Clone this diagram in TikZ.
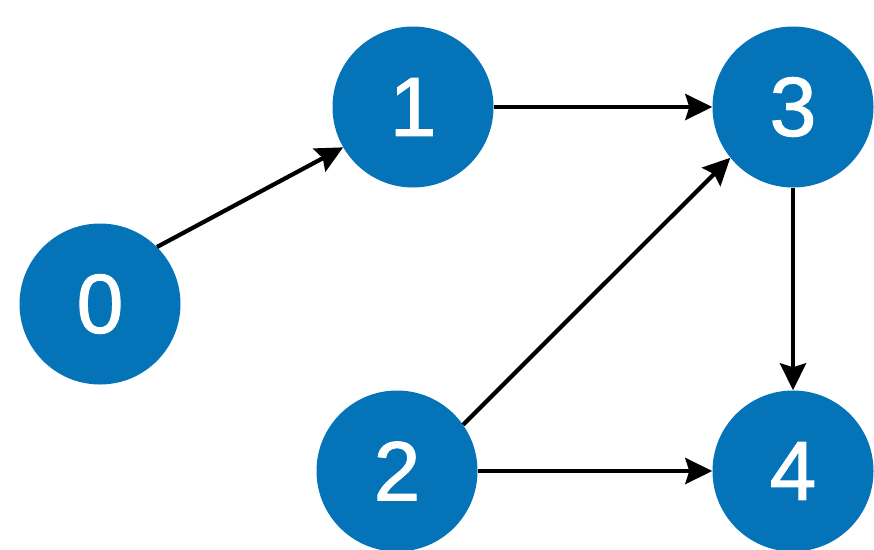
\documentclass[tikz,border=0pt]{standalone}
\usepackage{fontspec}
\setmainfont{Liberation Sans}
\newfontfamily\digitfont[FakeBold=1.3]{Liberation Sans}
\usetikzlibrary{arrows.meta}
\definecolor{nodeblue}{RGB}{4,115,184}
\tikzset{
  vertex/.style={circle, fill=nodeblue, draw=none, minimum size=161pt, inner sep=0pt,
    text=white, font=\digitfont\fontsize{84}{84}\selectfont},
  edge/.style={line width=4.2pt, draw=black, -{Stealth[length=27pt,width=26pt,inset=4pt]}}
}
\begin{document}
\begin{tikzpicture}[x=1pt,y=-1pt]
\useasboundingbox (0,0) rectangle (874,549);
\node[vertex] (n0) at (100,304) {0};
\node[vertex] (n1) at (413,107) {1};
\node[vertex] (n3) at (793,107) {3};
\node[vertex] (n2) at (397,471) {2};
\node[vertex] (n4) at (793,471) {4};
\draw[edge] (n0.45) -- (n1.210);
\draw[edge] (n1) -- (n3);
\draw[edge] (n2.35) -- (n3.219);
\draw[edge] (n2) -- (n4);
\draw[edge] (n3) -- (n4);
\end{tikzpicture}
\end{document}
